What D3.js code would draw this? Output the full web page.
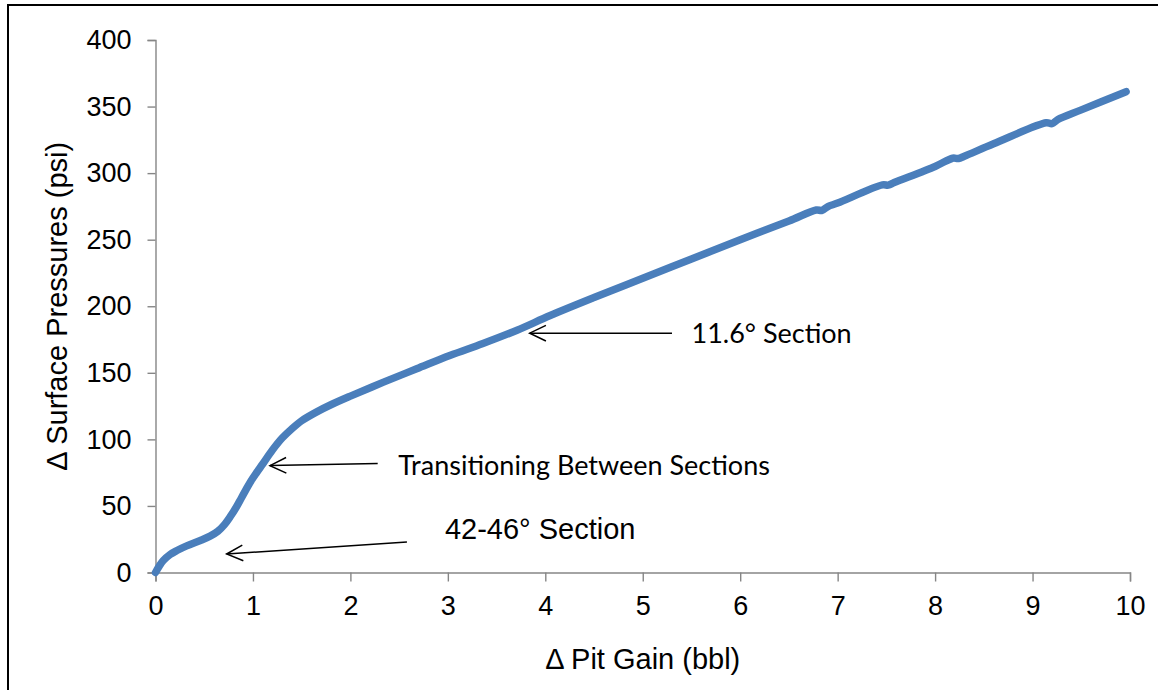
<!DOCTYPE html>
<html>
<head>
<meta charset="utf-8">
<script src="https://cdn.jsdelivr.net/npm/d3@7"></script>
<style>
  html, body { margin: 0; padding: 0; background: #fff; }
  svg { display: block; }
</style>
</head>
<body>
<svg id="chart" width="1158" height="690"></svg>
<script>
// Pit gain (bbl) vs. change in surface pressure (psi)
const pitGain = [0, 0.04, 0.08, 0.15, 0.22, 0.32, 0.46, 0.56, 0.64, 0.71, 0.77, 0.83, 0.88, 0.93, 0.98,
  1.04, 1.10, 1.20, 1.30, 1.40, 1.50, 1.65, 1.80, 2.00, 2.34, 2.68, 3.02, 3.36, 3.71, 4.05, 4.50,
  5.00, 5.50, 6.00, 6.50, 6.78, 6.84, 6.90, 7.00, 7.46, 7.52, 7.58, 8.00, 8.18, 8.24, 8.30, 8.60,
  9.14, 9.20, 9.26, 9.50, 9.96];
const surfacePressure = [0, 5, 9, 13.5, 16.5, 20, 24, 27.3, 31, 36.2, 42.3, 49.2, 55.8, 62.4, 68.8,
  75.3, 81.5, 92, 101, 108, 114, 120.5, 126, 132.5, 143, 153, 163, 172, 182, 193, 206.5,
  221, 235.5, 250, 264, 272.3, 272.0, 274.9, 277.5, 291.2, 291.0, 292.9, 305, 311.2, 311.0, 312.7, 322,
  337.8, 337.2, 340.3, 347.5, 361.2];

const xTicks = [0, 1, 2, 3, 4, 5, 6, 7, 8, 9, 10];
const yTicks = [0, 50, 100, 150, 200, 250, 300, 350, 400];

// Annotation callouts: arrow tail -> tip and label anchor, in data units
const noteLabels = ["11.6° Section", "Transitioning Between Sections", "42-46° Section"];
const noteFonts = ["Lato", "Lato", "Liberation Sans"];
const noteSizes = [27, 27, 29];
const noteTail = [[5.30, 179.8], [2.28, 81.8], [2.58, 22.9]];
const noteTip = [[3.84, 179.8], [1.175, 80.3], [0.73, 13.9]];
const noteText = [[5.50, 172.3], [2.49, 73.3], [2.97, 25.0]];

const svg = d3.select("#chart");
const axisColor = "#868686";
const lineColor = "#4a7ebb";

// outer frame
svg.append("rect")
  .attr("x", 8).attr("y", 5)
  .attr("width", 1200).attr("height", 720)
  .attr("fill", "none").attr("stroke", "#000").attr("stroke-width", 2);

const x = d3.scaleLinear().domain([0, 10]).range([155.5, 1130]);
const y = d3.scaleLinear().domain([0, 400]).range([572.5, 40]);

const axisFont = "Liberation Sans, Arial, sans-serif";

// y axis
const gy = svg.append("g").attr("transform", `translate(${x(0)},0)`)
  .call(d3.axisLeft(y).tickValues(yTicks).tickSize(8).tickPadding(16).tickFormat(d3.format("d")));
// x axis
const gx = svg.append("g").attr("transform", `translate(0,${y(0)})`)
  .call(d3.axisBottom(x).tickValues(xTicks).tickSize(9).tickPadding(14).tickFormat(d3.format("d")));

[gx, gy].forEach(g => {
  g.select(".domain").attr("stroke", axisColor).attr("stroke-width", 1.4);
  g.selectAll(".tick line").attr("stroke", axisColor).attr("stroke-width", 1.4);
  g.selectAll(".tick text").attr("fill", "#000")
    .style("font-family", axisFont).style("font-size", "27px");
});

// axis titles
svg.append("text")
  .attr("transform", `translate(67,${(y(0) + y(400)) / 2}) rotate(-90)`)
  .attr("text-anchor", "middle")
  .style("font-family", axisFont).style("font-size", "29px")
  .text("Δ Surface Pressures (psi)");

svg.append("text")
  .attr("x", (x(0) + x(10)) / 2).attr("y", 669)
  .attr("text-anchor", "middle")
  .style("font-family", axisFont).style("font-size", "29px")
  .text("Δ Pit Gain (bbl)");

// data line
const pts = pitGain.map((v, i) => [v, surfacePressure[i]]);
svg.append("path")
  .datum(pts)
  .attr("fill", "none")
  .attr("stroke", lineColor)
  .attr("stroke-width", 7.5)
  .attr("stroke-linecap", "round")
  .attr("stroke-linejoin", "round")
  .attr("d", d3.line().x(d => x(d[0])).y(d => y(d[1])).curve(d3.curveCatmullRom.alpha(0.5)));

// callouts
const notes = svg.append("g");
noteLabels.forEach((label, i) => {
  const [tx, ty] = [x(noteTail[i][0]), y(noteTail[i][1])];
  const [hx, hy] = [x(noteTip[i][0]), y(noteTip[i][1])];
  notes.append("line")
    .attr("x1", tx).attr("y1", ty).attr("x2", hx).attr("y2", hy)
    .attr("stroke", "#000").attr("stroke-width", 1.5);
  const ang = Math.atan2(ty - hy, tx - hx);
  const len = 18, spread = 0.45;
  const a1 = [hx + len * Math.cos(ang + spread), hy + len * Math.sin(ang + spread)];
  const a2 = [hx + len * Math.cos(ang - spread), hy + len * Math.sin(ang - spread)];
  notes.append("path")
    .attr("d", `M${a1[0]},${a1[1]}L${hx},${hy}L${a2[0]},${a2[1]}`)
    .attr("fill", "none").attr("stroke", "#000").attr("stroke-width", 1.5);
  notes.append("text")
    .attr("x", x(noteText[i][0])).attr("y", y(noteText[i][1]))
    .style("font-family", noteFonts[i])
    .style("font-size", noteSizes[i] + "px")
    .text(label);
});
</script>
</body>
</html>
